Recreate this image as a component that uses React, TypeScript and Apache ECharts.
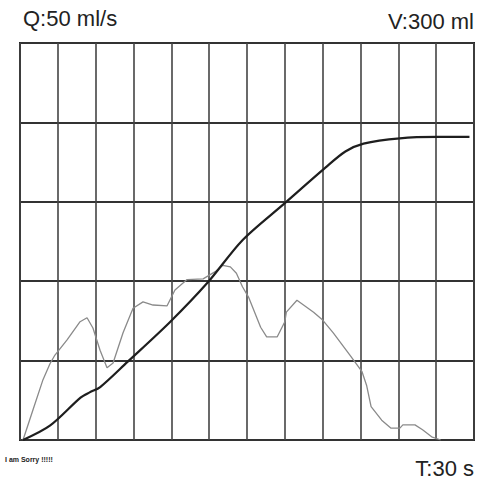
import React, { useEffect, useRef } from "react";
import * as echarts from "echarts";

// Time ticks (s) and labels
const timeMax = 30;
const timeStep = 2.5;
const flowMax = 50; // ml/s
const flowStep = 10;
const volumeMax = 300; // ml

const labelQ = "Q:50 ml/s";
const labelV = "V:300 ml";
const labelT = "T:30 s";
const noteText = "I am Sorry !!!!!";

// Flow curve (ml/s)
const flowTimes = [
  0.2, 0.86, 1.52, 1.98, 2.31, 3.11, 3.97, 4.43, 4.82, 5.29, 5.75, 6.15, 6.81, 7.47, 8.13, 8.79,
  9.72, 10.24, 11.04, 12.1, 12.9, 13.4, 13.9, 14.3, 14.7, 15.1, 15.9, 16.3, 17.0, 17.5, 17.6,
  18.3, 19.4, 20.0, 20.7, 21.8, 22.6, 22.9, 23.2, 23.9, 24.5, 25.1, 25.3, 26.1, 26.6, 27.2, 27.8,
];
const flowValues = [
  0, 3.8, 7.6, 9.6, 10.7, 12.6, 14.9, 15.4, 14.1, 11.3, 9.1, 9.7, 13.5, 16.6, 17.4, 17.0,
  16.9, 18.9, 20.2, 20.3, 21.2, 22.0, 21.8, 21.0, 19.3, 18.0, 14.2, 13.0, 13.0, 14.9, 16.1,
  17.6, 16.1, 15.1, 13.5, 10.7, 8.6, 6.9, 4.2, 2.5, 1.5, 1.5, 1.9, 1.9, 1.3, 0.4, 0,
];

// Voided volume curve (ml)
const volumeTimes = [
  0.2, 2.0, 4.0, 4.6, 5.3, 7.1, 9.9, 12.4, 14.7, 17.5, 20.2, 21.5, 22.7, 25.1, 27.6, 29.7,
];
const volumeValues = [
  0, 11, 32, 36, 40, 59, 89, 119, 151, 179, 206, 218, 224, 228, 229, 229,
];

const FONT = "'Liberation Sans', Arial, Helvetica, sans-serif";

export default function App() {
  const ref = useRef<HTMLDivElement>(null);

  useEffect(() => {
    if (!ref.current) return;
    const chart = echarts.init(ref.current, undefined, { renderer: "svg" });
    const flowData = flowTimes.map((t, i) => [t, flowValues[i]]);
    const volumeData = volumeTimes.map((t, i) => [t, volumeValues[i]]);

    chart.setOption({
      animation: false,
      backgroundColor: "#ffffff",
      grid: {
        left: 20,
        top: 43,
        width: 454,
        height: 397,
        show: true,
        borderColor: "#222",
        borderWidth: 2,
        backgroundColor: "transparent",
      },
      xAxis: {
        type: "value",
        min: 0,
        max: timeMax,
        interval: timeStep,
        axisLine: { show: false },
        axisTick: { show: false },
        axisLabel: { show: false },
        splitLine: { show: true, lineStyle: { color: "#444", width: 1.6 } },
      },
      yAxis: [
        {
          type: "value",
          min: 0,
          max: flowMax,
          interval: flowStep,
          axisLine: { show: false },
          axisTick: { show: false },
          axisLabel: { show: false },
          splitLine: { show: true, lineStyle: { color: "#333", width: 2 } },
        },
        {
          type: "value",
          min: 0,
          max: volumeMax,
          interval: 60,
          axisLine: { show: false },
          axisTick: { show: false },
          axisLabel: { show: false },
          splitLine: { show: false },
        },
      ],
      series: [
        {
          name: "Flow",
          type: "line",
          yAxisIndex: 0,
          data: flowData,
          showSymbol: false,
          lineStyle: { color: "#8a8a8a", width: 1.3 },
          z: 3,
        },
        {
          name: "Volume",
          type: "line",
          yAxisIndex: 1,
          data: volumeData,
          smooth: 0.3,
          showSymbol: false,
          lineStyle: { color: "#1e1e1e", width: 2.2 },
          z: 4,
        },
      ],
      graphic: [
        {
          type: "text",
          left: 23,
          top: 7,
          style: { text: labelQ, font: `22px ${FONT}`, fill: "#222" },
        },
        {
          type: "text",
          right: 4,
          top: 10,
          style: { text: labelV, font: `22px ${FONT}`, fill: "#222" },
        },
        {
          type: "text",
          right: 4,
          top: 457,
          style: { text: labelT, font: `22px ${FONT}`, fill: "#222" },
        },
        {
          type: "text",
          left: 5,
          top: 456,
          style: { text: noteText, font: `bold 7px ${FONT}`, fill: "#222" },
        },
      ],
    });

    return () => chart.dispose();
  }, []);

  return (
    <div
      ref={ref}
      style={{ position: "fixed", left: 0, top: 0, width: 478, height: 481, background: "#fff" }}
    />
  );
}
